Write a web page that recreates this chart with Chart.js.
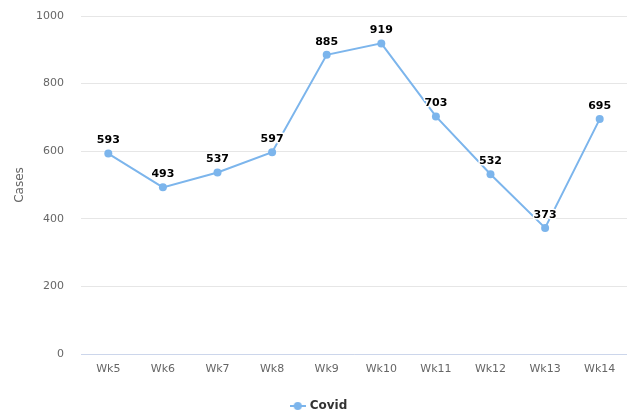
<!DOCTYPE html>
<html>
<head>
<meta charset="utf-8">
<script src="https://cdn.jsdelivr.net/npm/chart.js@4"></script>
<style>
  html, body { margin: 0; padding: 0; background: #fff; }
  #wrap { width: 627px; height: 415px; }
</style>
</head>
<body>
<div id="wrap"><canvas id="chart"></canvas></div>
<script>
// Chart data
const weeks = ['Wk5', 'Wk6', 'Wk7', 'Wk8', 'Wk9', 'Wk10', 'Wk11', 'Wk12', 'Wk13', 'Wk14'];
const covidCases = [593, 493, 537, 597, 885, 919, 703, 532, 373, 695];
const yTicks = [0, 200, 400, 600, 800, 1000];

const lineColor = '#7cb5ec';
const fontFamily = '"DejaVu Sans", sans-serif';

// Legend symbol: short line with a dot in the middle
const legendSymbol = document.createElement('canvas');
legendSymbol.width = 16;
legendSymbol.height = 10;
const sctx = legendSymbol.getContext('2d');
sctx.strokeStyle = lineColor;
sctx.lineWidth = 2;
sctx.beginPath();
sctx.moveTo(0, 5);
sctx.lineTo(16, 5);
sctx.stroke();
sctx.fillStyle = lineColor;
sctx.beginPath();
sctx.arc(8, 5, 4, 0, Math.PI * 2);
sctx.fill();

// Simple plugin to write the values above each point
const valueLabels = {
    id: 'valueLabels',
    afterDatasetsDraw(chart) {
        const ctx = chart.ctx;
        const meta = chart.getDatasetMeta(0);
        ctx.save();
        ctx.font = 'bold 11px ' + fontFamily;
        ctx.textAlign = 'center';
        ctx.textBaseline = 'middle';
        ctx.lineJoin = 'round';
        meta.data.forEach((pt, i) => {
            const text = String(chart.data.datasets[0].data[i]);
            ctx.strokeStyle = '#fff';
            ctx.lineWidth = 3;
            ctx.strokeText(text, pt.x, pt.y - 13);
            ctx.fillStyle = '#000';
            ctx.fillText(text, pt.x, pt.y - 13);
        });
        ctx.restore();
    }
};

// nudge the legend a bit to the right, like the original
const legendShift = {
    id: 'legendShift',
    afterLayout(chart) {
        if (chart.legend) {
            chart.legend.left += 6;
            chart.legend.right += 6;
        }
    }
};

const ctx = document.getElementById('chart').getContext('2d');
new Chart(ctx, {
    type: 'line',
    data: {
        labels: weeks,
        datasets: [{
            label: 'Covid',
            data: covidCases,
            borderColor: lineColor,
            backgroundColor: lineColor,
            borderWidth: 2,
            pointRadius: 4,
            pointHoverRadius: 4,
            pointBorderWidth: 0,
            pointStyle: 'circle',
            tension: 0,
            fill: false
        }]
    },
    options: {
        responsive: true,
        maintainAspectRatio: false,
        animation: false,
        layout: {
            autoPadding: false,
            padding: { top: 16, right: 0, left: 0, bottom: -7 }
        },
        plugins: {
            tooltip: { enabled: false },
            legend: {
                display: true,
                position: 'bottom',
                labels: {
                    usePointStyle: true,
                    pointStyle: legendSymbol,
                    color: '#333',
                    font: { family: fontFamily, size: 12, weight: 'bold' },
                    padding: 4
                }
            }
        },
        scales: {
            x: {
                offset: true,
                grid: { display: false, drawTicks: false },
                border: { color: '#ccd6eb', width: 1 },
                ticks: {
                    color: '#666',
                    font: { family: fontFamily, size: 11 },
                    padding: 9,
                    maxRotation: 0
                },
                afterFit(scale) {
                    scale.height = 42;
                    scale.paddingLeft = 0;
                    scale.paddingRight = 0;
                }
            },
            y: {
                min: 0,
                max: 1000,
                afterBuildTicks(scale) { scale.ticks = yTicks.map(v => ({ value: v })); },
                grid: { color: '#e6e6e6', drawTicks: false },
                border: { display: false },
                ticks: {
                    color: '#666',
                    font: { family: fontFamily, size: 11 },
                    padding: 17,
                    callback: v => String(v)
                },
                title: {
                    display: true,
                    text: 'Cases',
                    color: '#666',
                    font: { family: fontFamily, size: 12 },
                    padding: { top: 13, bottom: 0 }
                },
                afterFit(scale) {
                    scale.width = 81;
                    scale.paddingTop = 0;
                    scale.paddingBottom = 0;
                }
            }
        }
    },
    plugins: [valueLabels, legendShift]
});
</script>
</body>
</html>
